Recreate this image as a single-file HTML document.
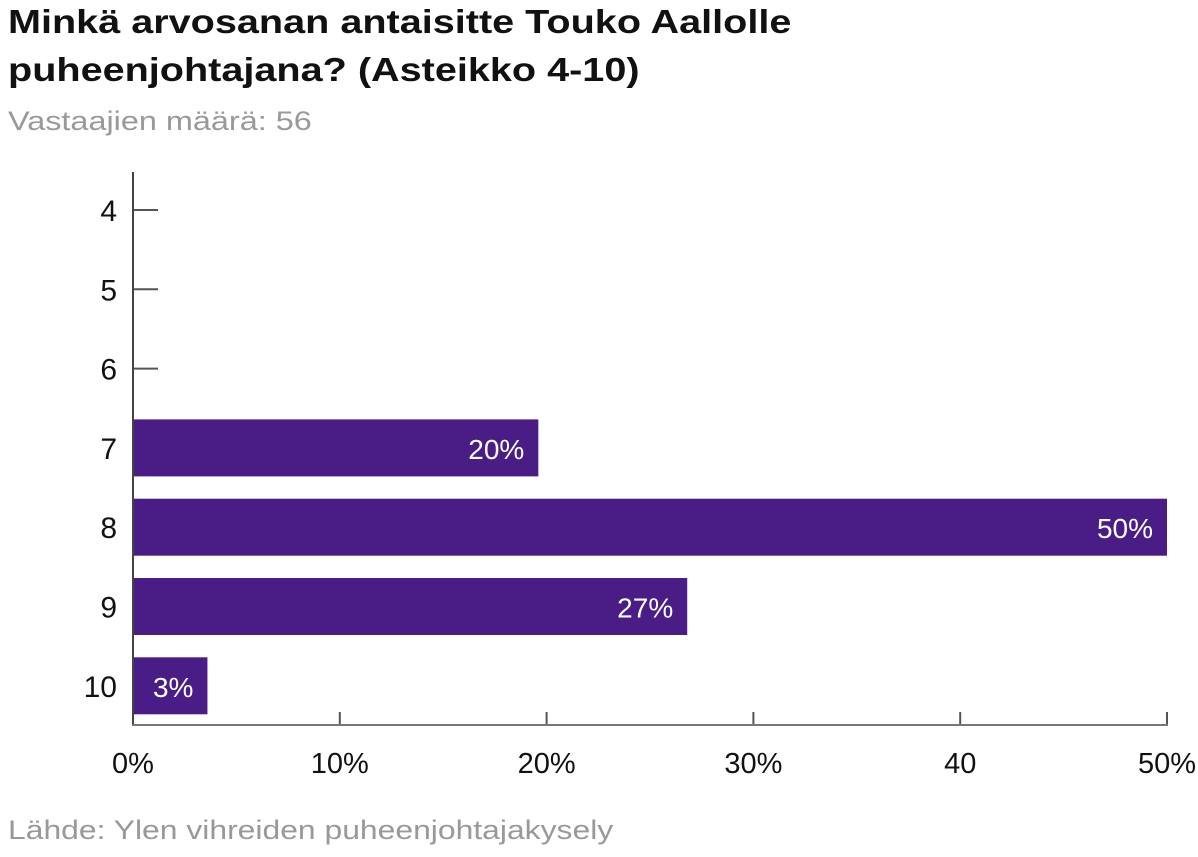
<!DOCTYPE html>
<html><head><meta charset="utf-8"><style>
body{margin:0;background:#fff;width:1198px;height:857px;overflow:hidden;font-family:"Liberation Sans",sans-serif}
.t{position:absolute;left:8px;font-weight:bold;font-size:33px;color:#111;line-height:48px;transform:scaleX(1.2);transform-origin:0 0;white-space:nowrap}
</style></head><body>
<div class="t" style="top:-2px">Minkä arvosanan antaisitte Touko Aallolle<br>puheenjohtajana? (Asteikko 4-10)</div>
<div style="position:absolute;left:8px;top:106px;font-size:27px;color:#999;transform:scaleX(1.2);transform-origin:0 0;white-space:nowrap">Vastaajien määrä: 56</div>
<div style="position:absolute;left:8px;top:815px;font-size:27px;color:#999;transform:scaleX(1.18);transform-origin:0 0;white-space:nowrap">Lähde: Ylen vihreiden puheenjohtajakysely</div>
<svg id="c" width="1198" height="857" style="position:absolute;left:0;top:0"></svg>
<script>
const categories=["4","5","6","7","8","9","10"];
const values=[0,0,0,19.6,50,26.8,3.6];
const valueLabels=["","","","20%","50%","27%","3%"];
const xTicks=[0,10,20,30,40,50];
const xTickLabels=["0%","10%","20%","30%","40","50%"];
const svg=document.getElementById('c');const NS="http://www.w3.org/2000/svg";
const x=v=>133+v*(1167-133)/50;
const y=i=>210+i*79.3;
function mk(t,a,txt){const e=document.createElementNS(NS,t);for(const k in a)e.setAttribute(k,a[k]);if(txt!=null)e.textContent=txt;svg.appendChild(e);return e;}
categories.forEach((c,i)=>{
 let tk=mk('line',{x1:133,x2:158,y1:y(i),y2:y(i),stroke:'#555','stroke-width':2});
 
 
 let lb=mk('text',{x:117,y:y(i)+11,'text-anchor':'end','font-size':30,fill:'#111','font-family':'Liberation Sans'},c);
 
 
 if(values[i]>0){
  let b=mk('rect',{x:133,y:y(i)-28.5,width:x(values[i])-133,height:57,fill:'#4a1c86'});
  
  
  let v=mk('text',{x:x(values[i])-14,y:y(i)+11,'text-anchor':'end','font-size':28,fill:'#fff','font-family':'Liberation Sans'},valueLabels[i]);
  
  
 }
});
xTicks.forEach((t,i)=>{
 let tk=mk('line',{x1:x(t),x2:x(t),y1:712,y2:725,stroke:'#555','stroke-width':2});
 
 
 let lb=mk('text',{x:x(t),y:773,'text-anchor':'middle','font-size':29,fill:'#111','font-family':'Liberation Sans'},xTickLabels[i]);
 
 
});
let ya=mk('line',{x1:133,x2:133,y1:172,y2:726,stroke:'#444','stroke-width':2});


let xa=mk('line',{x1:132,x2:1168,y1:725,y2:725,stroke:'#777','stroke-width':2});


</script>
</body></html>
